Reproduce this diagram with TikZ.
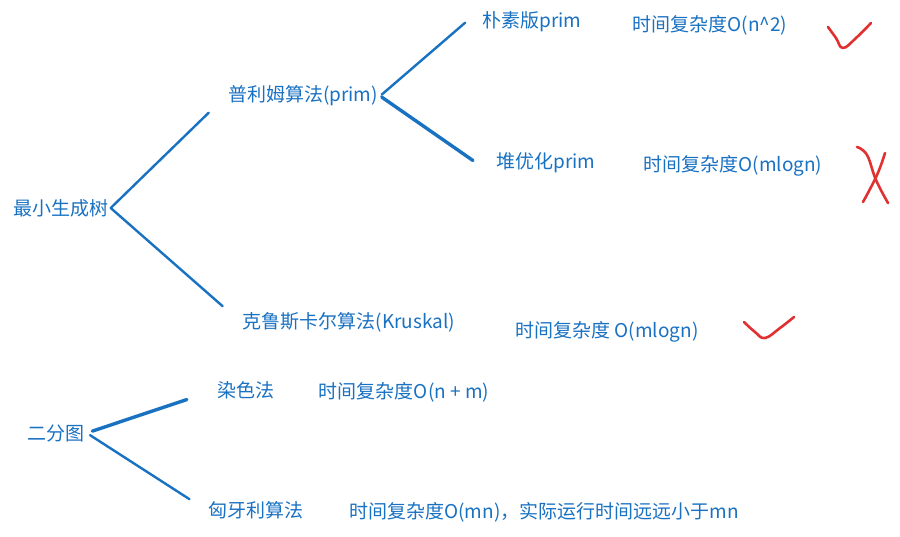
\documentclass[tikz,border=0pt]{standalone}
\usepackage{fontspec}
\setmainfont{Noto Sans CJK SC}
\definecolor{inkblue}{HTML}{1971C2}
\definecolor{inkred}{HTML}{E03131}

\begin{document}
\begin{tikzpicture}[x=1pt,y=-1pt,
  txt/.style={text=inkblue,font=\fontsize{19}{22}\selectfont,inner sep=2pt},
  branch/.style={draw=inkblue,line width=2.4pt,line cap=round},
  thick branch/.style={branch,line width=3.4pt},
  redmark/.style={draw=inkred,line width=2.6pt,line cap=round,line join=round}]
\useasboundingbox (0,0) rectangle (900,536);
\node[txt] (mst) at (61,208) {最小生成树};
\node[txt] (prim) at (303,96) {普利姆算法(prim)};
\node[txt] (naive) at (532,22) {朴素版prim};
\node[txt] (naivet) at (710,25) {时间复杂度O(n\textasciicircum{}2)};
\node[txt] (heap) at (546,163) {堆优化prim};
\node[txt] (heapt) at (733,166) {时间复杂度O(mlogn)};
\node[txt] (krus) at (349,322) {克鲁斯卡尔算法(Kruskal)};
\node[txt] (krust) at (607,332) {时间复杂度 O(mlogn)};
\node[txt] (bip) at (56,433) {二分图};
\node[txt] (dye) at (246,390) {染色法};
\node[txt] (dyet) at (404,392) {时间复杂度O(n + m)};
\node[txt] (hung) at (256,510) {匈牙利算法};
\node[txt] (hungt) at (544,512) {时间复杂度O(mn)，实际运行时间远远小于mn};
\draw[branch,shorten >=24pt] (mst.east) -- (prim.west);
\draw[branch,shorten >=24pt] (mst.east) -- (krus.west);
\draw[branch,shorten <=2pt,shorten >=20pt] (prim.east) -- (naive.north west);
\draw[thick branch,shorten <=2pt,shorten >=26pt] (prim.east) -- (heap.south west);
\draw[thick branch,shorten <=6pt,shorten >=30pt] (bip.east) -- (dye.west);
\draw[branch,shorten <=4pt,shorten >=20pt] (bip.east) -- (hung.west);
\draw[redmark] plot[smooth,tension=0.7] coordinates {(828,27) (836,38) (843,48) (856,38) (871,23)};
\draw[redmark] plot[smooth,tension=0.7] coordinates {(857,147) (867,155) (876,180) (888,203)};
\draw[redmark] plot[smooth,tension=0.7] coordinates {(885,153) (877,175) (863,202)};
\draw[redmark] plot[smooth,tension=0.7] coordinates {(744,322) (755,332) (765,338) (780,328) (794,317)};
\end{tikzpicture}
\end{document}
